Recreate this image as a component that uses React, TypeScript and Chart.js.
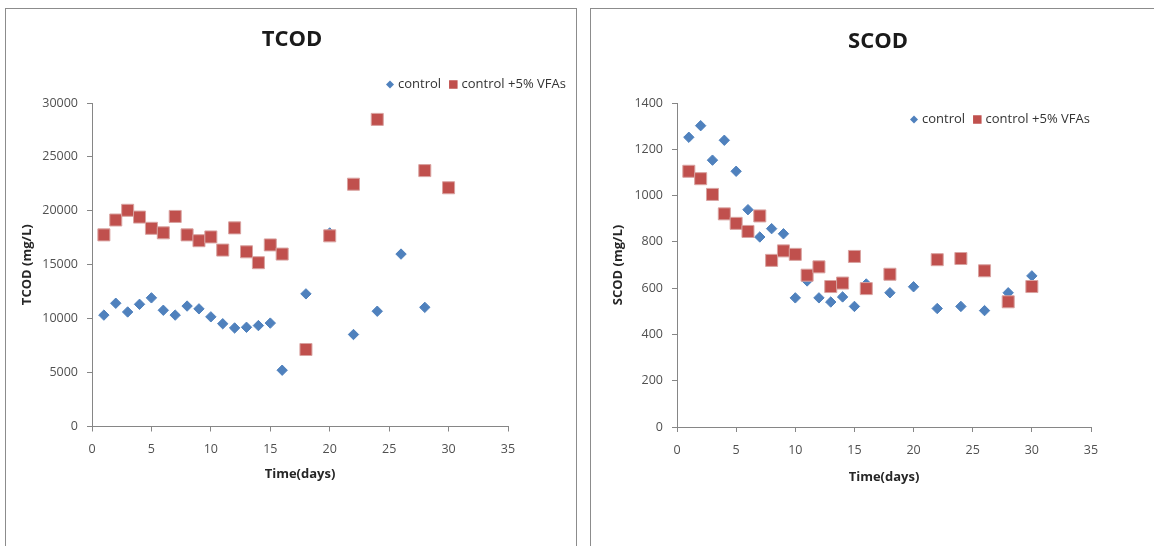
import React, { useEffect, useRef } from "react";
import { Chart, registerables } from "chart.js";

Chart.register(...registerables);

// TCOD data
const tcodControlDays = [1, 2, 3, 4, 5, 6, 7, 8, 9, 10, 11, 12, 13, 14, 15, 16, 18, 20, 22, 24, 26, 28];
const tcodControlValues = [10330, 11430, 10620, 11330, 11930, 10780, 10330, 11170, 10910, 10170, 9530, 9140, 9200, 9360, 9590, 5220, 12300, 17950, 8530, 10690, 15990, 11050];
const tcodVfaDays = [1, 2, 3, 4, 5, 6, 7, 8, 9, 10, 11, 12, 13, 14, 15, 16, 18, 20, 22, 24, 28, 30];
const tcodVfaValues = [17770, 19150, 20050, 19420, 18380, 17960, 19480, 17770, 17230, 17580, 16360, 18420, 16200, 15190, 16840, 15990, 7140, 17680, 22470, 28480, 23730, 22140];

// SCOD data
const scodControlDays = [1, 2, 3, 4, 5, 6, 7, 8, 9, 10, 11, 12, 13, 14, 15, 16, 18, 20, 22, 24, 26, 28, 30];
const scodControlValues = [1252, 1302, 1153, 1239, 1105, 939, 821, 857, 835, 558, 631, 558, 540, 562, 521, 618, 580, 606, 512, 521, 503, 580, 653];
const scodVfaDays = [1, 2, 3, 4, 5, 6, 7, 8, 9, 10, 11, 12, 13, 14, 15, 16, 18, 22, 24, 26, 28, 30];
const scodVfaValues = [1105, 1073, 1005, 921, 880, 845, 912, 720, 761, 746, 656, 692, 607, 622, 737, 598, 660, 723, 728, 675, 541, 607];

const seriesLabels = ["control", "control +5% VFAs"];
const BLUE = "#4F81BD";
const RED = "#C0504D";
const AXIS = "#868686";
const FONT = "'Open Sans', 'DejaVu Sans', sans-serif";

type Cfg = {
  title: string;
  yTitle: string;
  yMax: number;
  yStep: number;
  ctrlDays: number[];
  ctrlVals: number[];
  vfaDays: number[];
  vfaVals: number[];
  width: number;
  height: number;
  pad: { left: number; top: number; right: number; bottom: number };
  yWidth: number;
  xHeight: number;
  yTitlePad: number;
  xTitlePad: number;
  yTickPad: number;
  xTickPad: number;
  titlePos: [number, number];
  legendPos: [number, number];
};

function makeOverlay(cfg: Cfg) {
  return {
    id: "overlay" + cfg.title,
    afterDraw(chart: any) {
      const ctx = chart.ctx;
      ctx.save();
      // title
      ctx.fillStyle = "#1a1a1a";
      ctx.font = `bold 22px ${FONT}`;
      ctx.textAlign = "center";
      ctx.textBaseline = "middle";
      ctx.fillText(cfg.title, cfg.titlePos[0], cfg.titlePos[1]);
      // legend
      const [lx, ly] = cfg.legendPos;
      ctx.font = `13px ${FONT}`;
      ctx.textAlign = "left";
      ctx.fillStyle = BLUE;
      ctx.beginPath();
      ctx.moveTo(lx, ly - 4);
      ctx.lineTo(lx + 4, ly);
      ctx.lineTo(lx, ly + 4);
      ctx.lineTo(lx - 4, ly);
      ctx.closePath();
      ctx.fill();
      ctx.fillStyle = "#333333";
      ctx.fillText(seriesLabels[0], lx + 8, ly);
      const w0 = ctx.measureText(seriesLabels[0]).width;
      const sx = lx + 8 + w0 + 8;
      ctx.fillStyle = RED;
      ctx.fillRect(sx, ly - 4.25, 8.5, 8.5);
      ctx.fillStyle = "#333333";
      ctx.fillText(seriesLabels[1], sx + 12.5, ly);
      ctx.restore();
    },
  };
}

function ScatterPanel({ cfg, left }: { cfg: Cfg; left: number }) {
  const ref = useRef<HTMLCanvasElement | null>(null);
  useEffect(() => {
    if (!ref.current) return;
    const chart = new Chart(ref.current, {
      type: "scatter",
      data: {
        datasets: [
          {
            label: seriesLabels[0],
            data: cfg.ctrlDays.map((d, i) => ({ x: d, y: cfg.ctrlVals[i] })),
            pointStyle: "rectRot",
            pointRadius: 5.2,
            pointHoverRadius: 5.2,
            backgroundColor: BLUE,
            borderColor: BLUE,
            borderWidth: 1,
            order: 1,
          },
          {
            label: seriesLabels[1],
            data: cfg.vfaDays.map((d, i) => ({ x: d, y: cfg.vfaVals[i] })),
            pointStyle: "rect",
            pointRadius: 8.5,
            pointHoverRadius: 8.5,
            backgroundColor: RED,
            borderColor: "#D9A3A1",
            borderWidth: 1,
            order: 0,
          },
        ],
      },
      options: {
        animation: false,
        responsive: false,
        layout: { padding: cfg.pad },
        plugins: {
          legend: { display: false },
          title: { display: false },
          tooltip: { enabled: false },
        },
        scales: {
          x: {
            type: "linear",
            min: 0,
            max: 35,
            ticks: {
              stepSize: 5,
              color: "#505050",
              font: { family: FONT, size: 12.5 },
              padding: cfg.xTickPad,
              maxRotation: 0,
              callback: (v: any) => String(v),
            },
            grid: {
              display: true,
              drawOnChartArea: false,
              drawTicks: true,
              tickLength: 5,
              tickColor: AXIS,
            },
            border: { display: true, color: AXIS, width: 1 },
            title: {
              display: true,
              text: "Time(days)",
              color: "#262626",
              font: { family: FONT, size: 13, weight: "bold" },
              padding: { top: 0, bottom: cfg.xTitlePad },
            },
            afterFit: (s: any) => {
              s.height = cfg.xHeight;
            },
          },
          y: {
            type: "linear",
            min: 0,
            max: cfg.yMax,
            ticks: {
              stepSize: cfg.yStep,
              color: "#505050",
              font: { family: FONT, size: 12.5 },
              padding: cfg.yTickPad,
              callback: (v: any) => String(v),
            },
            grid: {
              display: true,
              drawOnChartArea: false,
              drawTicks: true,
              tickLength: 5,
              tickColor: AXIS,
            },
            border: { display: true, color: AXIS, width: 1 },
            title: {
              display: true,
              text: cfg.yTitle,
              color: "#262626",
              font: { family: FONT, size: 13, weight: "bold" },
              padding: { top: cfg.yTitlePad, bottom: 0 },
            },
            afterFit: (s: any) => {
              s.width = cfg.yWidth;
            },
          },
        },
      },
      plugins: [makeOverlay(cfg)],
    } as any);
    return () => chart.destroy();
  }, [cfg]);
  return (
    <canvas
      ref={ref}
      width={cfg.width}
      height={cfg.height}
      style={{ position: "absolute", left, top: 0, width: cfg.width, height: cfg.height }}
    />
  );
}

const tcodCfg: Cfg = {
  title: "TCOD",
  yTitle: "TCOD (mg/L)",
  yMax: 30000,
  yStep: 5000,
  ctrlDays: tcodControlDays,
  ctrlVals: tcodControlValues,
  vfaDays: tcodVfaDays,
  vfaVals: tcodVfaValues,
  width: 580,
  height: 546,
  pad: { left: 10, top: 103, right: 72, bottom: 59.5 },
  yWidth: 82,
  xHeight: 60,
  yTitlePad: 9.2,
  xTitlePad: 4.7,
  yTickPad: 9,
  xTickPad: 10,
  titlePos: [292, 40],
  legendPos: [390, 84.5],
};

const scodCfg: Cfg = {
  title: "SCOD",
  yTitle: "SCOD (mg/L)",
  yMax: 1400,
  yStep: 200,
  ctrlDays: scodControlDays,
  ctrlVals: scodControlValues,
  vfaDays: scodVfaDays,
  vfaVals: scodVfaValues,
  width: 574,
  height: 546,
  pad: { left: 21, top: 103, right: 63, bottom: 59 },
  yWidth: 76,
  xHeight: 60,
  yTitlePad: 9.6,
  xTitlePad: 1.5,
  yTickPad: 9,
  xTickPad: 11.4,
  titlePos: [298, 42],
  legendPos: [334, 119.5],
};

export default function App() {
  return (
    <div style={{ position: "fixed", left: 0, top: 0, width: 1154, height: 546, background: "#fff", overflow: "hidden" }}>
      <div style={{ position: "absolute", left: 5, top: 8, width: 570, height: 600, border: "1px solid #8c8c8c" }} />
      <div style={{ position: "absolute", left: 590, top: 8, width: 600, height: 600, border: "1px solid #8c8c8c" }} />
      <ScatterPanel cfg={tcodCfg} left={0} />
      <ScatterPanel cfg={scodCfg} left={580} />
    </div>
  );
}
